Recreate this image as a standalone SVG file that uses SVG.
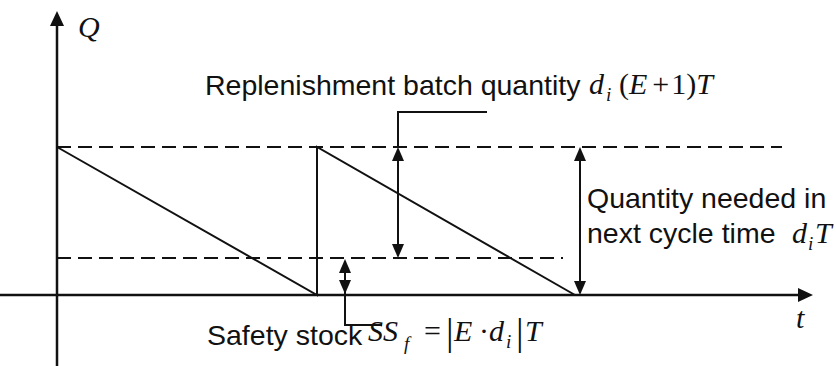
<svg xmlns="http://www.w3.org/2000/svg" width="836" height="366" viewBox="0 0 836 366">
<style>
.ln{stroke:#111;stroke-width:2;fill:none}
.ax{stroke:#111;stroke-width:2.5;fill:none}
.dash{stroke:#111;stroke-width:2;fill:none;stroke-dasharray:14 7}
.hd{fill:#111;stroke:none}
.t{font-family:"Liberation Sans",Arial,sans-serif;font-size:28.5px;fill:#111}
.m{font-family:"Liberation Serif","Times New Roman",serif;font-style:italic;font-size:30px;fill:#111}
.mr{font-family:"Liberation Serif","Times New Roman",serif;font-size:30px;fill:#111}
.bar{font-family:"Liberation Serif","Times New Roman",serif;font-size:38px;fill:#111}
.s{font-family:"Liberation Serif","Times New Roman",serif;font-style:italic;font-size:19px;fill:#111}
</style>
<g id="axes">
<line class="ax" x1="57" y1="366" x2="57" y2="20"/>
<polygon class="hd" points="57,11 50,26 64,26"/>
<line class="ax" x1="0" y1="295" x2="806" y2="295"/>
<polygon class="hd" points="813,295 798,288 798,302"/>
<text class="m" x="78" y="37">Q</text>
<text class="m" x="796" y="328">t</text>
</g>
<g id="levels">
<line class="dash" x1="57" y1="147" x2="782" y2="147"/>
<line class="dash" x1="57" y1="258" x2="563" y2="258"/>
</g>
<g id="inventory">
<polyline class="ln" points="57,147 317,295 317,147 575,295"/>
</g>
<g id="connectors">
<line class="ln" x1="398" y1="155" x2="398" y2="250"/>
<polygon class="hd" points="398,147 392,161 404,161"/>
<polygon class="hd" points="398,258 392,244 404,244"/>
<polyline class="ln" points="398,147 398,112 487,112"/>
<line class="ln" x1="580" y1="155" x2="580" y2="287"/>
<polygon class="hd" points="580,147 574,161 586,161"/>
<polygon class="hd" points="580,295 574,281 586,281"/>
<line class="ln" x1="345" y1="262" x2="345" y2="325"/>
<polygon class="hd" points="345,259 339,273 351,273"/>
<polygon class="hd" points="345,294 339,280 351,280"/>
<polyline class="ln" points="345,294 345,325 382,325"/>
</g>
<g id="label-replenishment">
<text class="t" x="205" y="95">Replenishment batch quantity</text>
<text class="m" x="589" y="94">d</text>
<text class="s" x="606" y="101">i</text>
<text class="mr" x="619" y="94">(<tspan font-style="italic">E</tspan><tspan dx="5">+</tspan><tspan dx="2">1)</tspan><tspan font-style="italic">T</tspan></text>
</g>
<g id="label-needed">
<text class="t" x="587" y="208">Quantity needed in</text>
<text class="t" x="587" y="243">next cycle time</text>
<text class="m" x="792" y="243">d</text>
<text class="s" x="808" y="250">i</text>
<text class="m" x="815" y="243">T</text>
</g>
<g id="label-safety">
<text class="t" x="207" y="345">Safety stock</text>
<text class="m" x="368" y="341">SS</text>
<text class="s" x="404" y="350">f</text>
<text class="mr" x="424" y="341">=</text>
<text class="bar" x="446" y="345">|</text>
<text class="m" x="454" y="341">E</text>
<text class="mr" x="479" y="341">·</text>
<text class="m" x="489" y="341">d</text>
<text class="s" x="506" y="348">i</text>
<text class="bar" x="516" y="345">|</text>
<text class="m" x="525" y="341">T</text>
</g>
</svg>
